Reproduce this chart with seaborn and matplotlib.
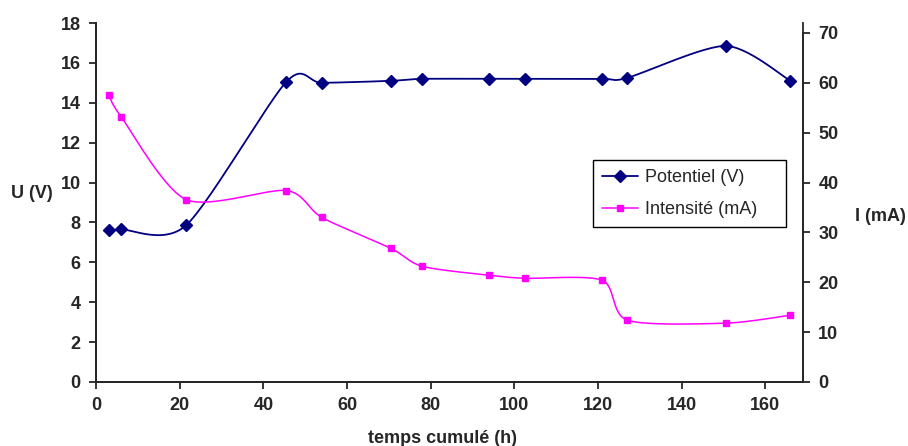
import numpy as np
import pandas as pd
import matplotlib
matplotlib.use("Agg")
import matplotlib.pyplot as plt
from matplotlib.lines import Line2D
import seaborn as sns

# values
temps = [3, 6, 21.5, 45.5, 54, 70.5, 78, 94, 102.5, 121, 127, 150.5, 166]
potentiel = [7.6, 7.65, 7.85, 15.05, 15.0, 15.1, 15.2, 15.2, 15.2, 15.2, 15.25, 16.85, 15.1]
intensite = [57.6, 53.2, 36.6, 38.4, 33.0, 26.8, 23.2, 21.4, 20.8, 20.4, 12.4, 11.8, 13.4]

sns.set_style("ticks")
plt.rcParams["font.family"] = ["Liberation Sans", "DejaVu Sans"]


# Excel-like smoothed line (Bezier through points, computed in screen-ish units)
def smooth(x, y, sx, sy, k=7.5, n=30):
    p = np.column_stack([np.array(x) * sx, np.array(y) * sy])
    pts = []
    for i in range(len(p) - 1):
        p0 = p[i - 1] if i > 0 else p[i]
        p3 = p[i + 2] if i + 2 < len(p) else p[i + 1]
        c1 = p[i] + (p[i + 1] - p0) / k
        c2 = p[i + 1] - (p3 - p[i]) / k
        t = np.linspace(0, 1, n)[:, None]
        seg = ((1 - t) ** 3) * p[i] + 3 * ((1 - t) ** 2) * t * c1 + 3 * (1 - t) * t ** 2 * c2 + t ** 3 * p[i + 1]
        pts.append(seg if i == 0 else seg[1:])
    pts = np.vstack(pts)
    return pd.DataFrame({"x": pts[:, 0] / sx, "y": pts[:, 1] / sy})


fig = plt.figure(figsize=(9.08, 4.46), dpi=100)
ax = fig.add_axes([96 / 908, 1 - 382 / 446, 707 / 908, 359 / 446])
ax2 = ax.twinx()

navy = "#000080"
magenta = "#FF00FF"

pot_curve = smooth(temps, potentiel, 707 / 169, 359 / 18)
int_curve = smooth(temps, intensite, 707 / 169, 359 / 72)

sns.lineplot(data=pot_curve, x="x", y="y", ax=ax, color=navy, lw=1.3, sort=False, estimator=None)
ax.plot(temps, potentiel, linestyle="none", marker="D", ms=6, color=navy)
sns.lineplot(data=int_curve, x="x", y="y", ax=ax2, color=magenta, lw=1.1, sort=False, estimator=None)
ax2.plot(temps, intensite, linestyle="none", marker="s", ms=5, color=magenta)

ax.set_xlim(0, 169)
ax.set_ylim(0, 18)
ax.set_yticks(range(0, 19, 2))
ax.set_xticks(range(0, 161, 20))
ax2.set_ylim(0, 72)
ax2.set_yticks(range(0, 71, 10))

for a in (ax, ax2):
    a.spines["top"].set_visible(False)
    a.tick_params(labelsize=13, width=1.3, length=5, direction="out", pad=6)
    for lbl in a.get_xticklabels() + a.get_yticklabels():
        lbl.set_fontweight("bold")
    for s in a.spines.values():
        s.set_linewidth(1.3)
ax2.spines["right"].set_bounds(0, 70)

ax.set_xlabel("temps cumulé (h)", fontsize=13, fontweight="bold")
ax.xaxis.set_label_coords(0.49, -0.135)
ax.set_ylabel("U (V)", fontsize=13, fontweight="bold", rotation=0)
ax.yaxis.set_label_coords(-0.09, 0.5)
ax2.set_ylabel("I (mA)", fontsize=13, fontweight="bold", rotation=0)
ax2.yaxis.set_label_coords(1.11, 0.485)

handles = [
    Line2D([], [], color=navy, marker="D", ms=6, lw=1.3, label="Potentiel (V)"),
    Line2D([], [], color=magenta, marker="s", ms=5, lw=1.1, label="Intensité (mA)"),
]
leg = ax2.legend(handles=handles, loc="upper left",
                 bbox_to_anchor=(593 / 908, 1 - 224 / 446, 193 / 908, 64 / 446), mode="expand",
                 bbox_transform=fig.transFigure, fontsize=13, frameon=True, fancybox=False,
                 edgecolor="black", framealpha=1, borderaxespad=0, handlelength=2.0,
                 handletextpad=0.4, labelspacing=0.85, borderpad=0.5)
leg.get_frame().set_linewidth(1.0)

fig.savefig("out.png", dpi=100)
